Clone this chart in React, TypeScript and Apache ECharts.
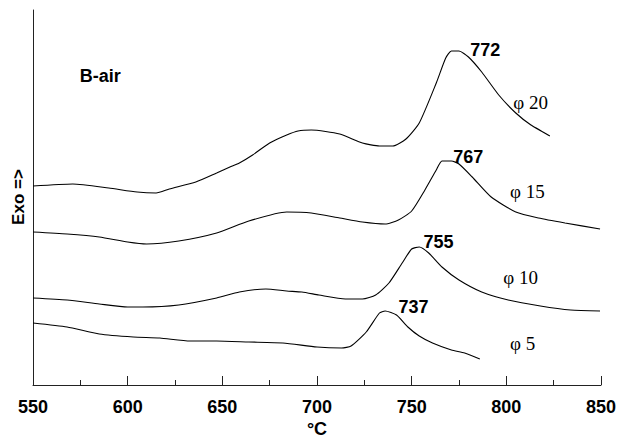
import React, { useEffect, useRef } from "react";
import * as echarts from "echarts";

// x: temperature (°C), y: arbitrary exo signal units
const phi20: [number, number][] = [
  [550, 199], [571, 201], [590, 197], [605, 193], [615, 192], [622, 196], [636, 203],
  [647, 212], [654, 218], [659, 222], [666, 230], [675, 242], [684, 250], [690, 254],
  [697, 255], [712, 251], [724, 242], [733, 239], [740, 239], [747, 246], [754, 262],
  [763, 302], [768, 327], [771, 334], [775, 334], [780, 328], [787, 313], [796, 290],
  [805, 272], [813, 260], [823, 249],
];
const phi15: [number, number][] = [
  [550, 153], [568, 151], [585, 148], [600, 143], [610, 141], [627, 144], [647, 152],
  [664, 164], [684, 173], [697, 172], [712, 167], [724, 163], [736, 161], [743, 165],
  [750, 174], [757, 195], [763, 215], [766, 224], [771, 224], [775, 221], [782, 208],
  [792, 188], [805, 173], [817, 167], [831, 162], [849.5, 156],
];
const phi10: [number, number][] = [
  [550, 87], [568, 85], [585, 81], [600, 78], [608, 78], [627, 80], [647, 87], [659, 93],
  [673, 96], [684, 94], [692, 93], [701, 90], [715, 86], [724, 86], [731, 90], [738, 102],
  [745, 122], [750, 136], [754, 138], [759, 132], [766, 118], [775, 105], [787, 93],
  [801, 85], [818, 79], [834, 75], [849.5, 74],
];
const phi5: [number, number][] = [
  [550, 62], [568, 58], [585, 51], [603, 48], [617, 47], [633, 44], [647, 44], [664, 43],
  [682, 42], [700, 38], [713, 37], [718, 39], [726, 53], [733, 72], [736, 74], [742, 70],
  [748, 58], [754, 49], [761, 42], [771, 35], [778, 32], [786, 26],
];

const peakLabels: { text: string; at: [number, number] }[] = [
  { text: "772", at: [781, 335] },
  { text: "767", at: [772, 228] },
  { text: "755", at: [756.3, 143] },
  { text: "737", at: [743, 78] },
];
const sampleLabels: { text: string; at: [number, number] }[] = [
  { text: "φ 20", at: [803.7, 283] },
  { text: "φ 15", at: [802, 194] },
  { text: "φ 10", at: [798.4, 108] },
  { text: "φ 5", at: [802, 42] },
];
const titleLabel: { text: string; at: [number, number] } = { text: "B-air", at: [574.7, 309] };

const X_MIN = 550;
const X_MAX = 850;
const X_STEP = 50;

export default function App() {
  const ref = useRef<HTMLDivElement>(null);
  useEffect(() => {
    document.body.style.margin = "0";
    if (!ref.current) return;
    const chart = echarts.init(ref.current, null, { renderer: "svg" });
    const lineStyle = { color: "#000", width: 1.1 };
    const curve = (name: string, data: [number, number][]) => ({
      name,
      type: "line",
      data,
      showSymbol: false,
      symbol: "none",
      smooth: 0.2,
      lineStyle,
      silent: true,
    });
    const labelSeries = (
      name: string,
      items: { text: string; at: [number, number] }[],
      font: { fontFamily: string; fontWeight: string; fontSize: number }
    ) => ({
      name,
      type: "scatter",
      symbolSize: 0,
      silent: true,
      itemStyle: { opacity: 1 },
      data: items.map((d) => ({ value: d.at, name: d.text })),
      label: {
        show: true,
        position: "right",
        distance: 0,
        formatter: (p: any) => p.name,
        color: "#000",
        opacity: 1,
        textBorderWidth: 0,
        ...font,
      },
    });
    chart.setOption({
      animation: false,
      backgroundColor: "#fff",
      grid: { left: 33, right: 16, top: 10, bottom: 53 },
      xAxis: {
        type: "value",
        min: X_MIN,
        max: X_MAX,
        interval: X_STEP,
        axisLine: { show: true, lineStyle: { color: "#222", width: 1 } },
        axisTick: { show: true, inside: true, length: 9, lineStyle: { color: "#222" } },
        minorTick: { show: true, splitNumber: 2, length: 5, lineStyle: { color: "#222" } },
        splitLine: { show: false },
        axisLabel: {
          color: "#000",
          fontFamily: "Liberation Sans",
          fontWeight: "bold",
          fontSize: 18,
          margin: 13,
        },
      },
      yAxis: {
        type: "value",
        min: 0,
        max: 375,
        axisLine: { show: true, lineStyle: { color: "#222", width: 1 } },
        axisTick: { show: false },
        axisLabel: { show: false },
        splitLine: { show: false },
      },
      graphic: [
        {
          type: "text",
          x: 18,
          y: 197,
          rotation: Math.PI / 2,
          style: {
            text: "Exo =>",
            font: "bold 17px 'Liberation Sans'",
            fill: "#000",
            align: "center",
            verticalAlign: "middle",
          },
        },
        {
          type: "text",
          x: 317,
          y: 429,
          style: {
            text: "°C",
            font: "bold 18px 'Liberation Sans'",
            fill: "#000",
            align: "center",
            verticalAlign: "middle",
          },
        },
      ],
      series: [
        curve("φ 20", phi20),
        curve("φ 15", phi15),
        curve("φ 10", phi10),
        curve("φ 5", phi5),
        labelSeries("peaks", peakLabels, { fontFamily: "Liberation Sans", fontWeight: "bold", fontSize: 18 }),
        labelSeries("samples", sampleLabels, { fontFamily: "Liberation Serif", fontWeight: "normal", fontSize: 19 }),
        labelSeries("title", [titleLabel], { fontFamily: "Liberation Sans", fontWeight: "bold", fontSize: 18 }),
      ],
    });
    return () => chart.dispose();
  }, []);
  return <div ref={ref} style={{ width: 619, height: 438, position: "absolute", left: 0, top: 0 }} />;
}
